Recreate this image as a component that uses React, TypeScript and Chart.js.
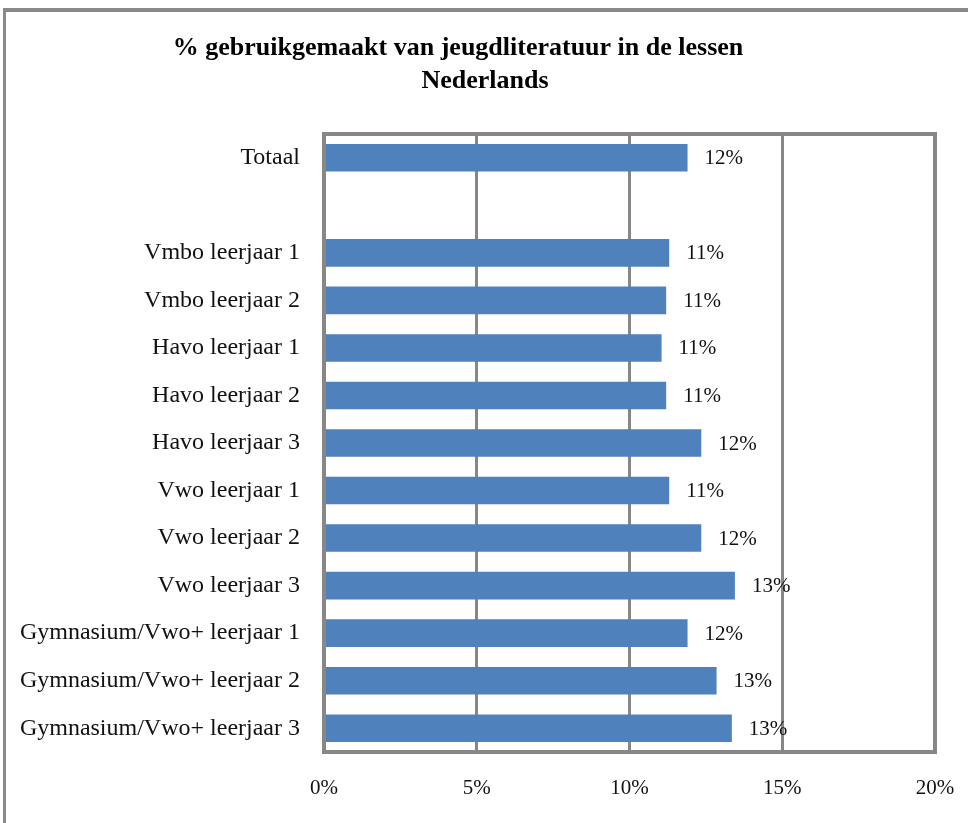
import React, { useEffect, useRef } from "react";
import { Chart, registerables } from "chart.js";

Chart.register(...registerables);

const titleLines = ["% gebruikgemaakt van jeugdliteratuur in de lessen", "Nederlands"];
const categories = [
  "Totaal",
  "",
  "Vmbo leerjaar 1",
  "Vmbo leerjaar 2",
  "Havo leerjaar 1",
  "Havo leerjaar 2",
  "Havo leerjaar 3",
  "Vwo leerjaar 1",
  "Vwo leerjaar 2",
  "Vwo leerjaar 3",
  "Gymnasium/Vwo+ leerjaar 1",
  "Gymnasium/Vwo+ leerjaar 2",
  "Gymnasium/Vwo+ leerjaar 3",
];
const values: (number | null)[] = [11.9, null, 11.3, 11.2, 11.05, 11.2, 12.35, 11.3, 12.35, 13.45, 11.9, 12.85, 13.35];
const valueLabels = ["12%", "", "11%", "11%", "11%", "11%", "12%", "11%", "12%", "13%", "12%", "13%", "13%"];
const xTicks = [0, 5, 10, 15, 20];

const SERIF = "'Liberation Serif', 'Times New Roman', serif";
const GRID = "#878787";

export default function App() {
  const ref = useRef<HTMLCanvasElement | null>(null);

  useEffect(() => {
    if (!ref.current) return;
    const plotBorder = {
      id: "plotBorder",
      afterDatasetsDraw(chart: any) {
        const { ctx, chartArea } = chart;
        ctx.save();
        ctx.strokeStyle = GRID;
        ctx.lineWidth = 4;
        ctx.strokeRect(chartArea.left, chartArea.top, chartArea.right - chartArea.left, chartArea.bottom - chartArea.top);
        ctx.restore();
      },
    };
    const dataLabels = {
      id: "dataLabels",
      afterDatasetsDraw(chart: any) {
        const { ctx } = chart;
        const meta = chart.getDatasetMeta(0);
        ctx.save();
        ctx.fillStyle = "#111";
        ctx.font = `21px ${SERIF}`;
        ctx.textAlign = "left";
        ctx.textBaseline = "middle";
        meta.data.forEach((bar: any, i: number) => {
          if (values[i] == null) return;
          ctx.fillText(valueLabels[i], bar.x + 17, bar.y + 1);
        });
        ctx.restore();
      },
    };
    const titlePlugin = {
      id: "customTitle",
      afterDraw(chart: any) {
        const { ctx } = chart;
        ctx.save();
        ctx.fillStyle = "#000";
        ctx.font = `bold 26px ${SERIF}`;
        ctx.textAlign = "center";
        ctx.textBaseline = "middle";
        ctx.fillText(titleLines[0], 458, 48);
        ctx.fillText(titleLines[1], 485, 81);
        ctx.restore();
      },
    };
    const chart = new Chart(ref.current, {
      type: "bar",
      data: {
        labels: categories,
        datasets: [
          {
            data: values as any,
            backgroundColor: "#4F81BD",
            borderWidth: 0,
            barPercentage: 0.58,
            categoryPercentage: 1,
          },
        ],
      },
      options: {
        indexAxis: "y",
        animation: false,
        responsive: false,
        maintainAspectRatio: false,
        layout: { padding: { left: 0, top: 134, right: 33, bottom: 11 } },
        plugins: {
          legend: { display: false },
          tooltip: { enabled: false },
          title: { display: false },
        },
        scales: {
          x: {
            min: 0,
            max: 20,
            afterBuildTicks(scale: any) {
              scale.ticks = xTicks.map((v) => ({ value: v }));
            },
            ticks: {
              callback: (v: any) => `${v}%`,
              font: { family: SERIF, size: 21 },
              color: "#111",
              padding: 24,
              maxRotation: 0,
            },
            grid: { color: GRID, lineWidth: 3, drawTicks: false },
            border: { display: false },
            afterFit(scale: any) {
              scale.height = 60;
              scale.paddingLeft = 0;
              scale.paddingRight = 0;
            },
          },
          y: {
            ticks: {
              font: { family: SERIF, size: 24 },
              color: "#111",
              padding: 24,
              autoSkip: false,
            },
            grid: { display: false, drawTicks: false },
            border: { display: false },
            afterFit(scale: any) {
              scale.width = 324;
              scale.paddingTop = 0;
              scale.paddingBottom = 0;
            },
          },
        },
      },
      plugins: [plotBorder, dataLabels, titlePlugin],
    });
    return () => chart.destroy();
  }, []);

  return (
    <div style={{ position: "absolute", left: 0, top: 0, width: 968, height: 823, background: "#fff", overflow: "hidden" }}>
      <div
        style={{
          position: "absolute",
          left: 3,
          top: 8,
          width: 965,
          height: 815,
          boxSizing: "border-box",
          borderTop: "4px solid #8a8a8a",
          borderLeft: "3px solid #8a8a8a",
        }}
      />
      <canvas ref={ref} width={968} height={823} style={{ position: "absolute", left: 0, top: 0, display: "block" }} />
    </div>
  );
}
